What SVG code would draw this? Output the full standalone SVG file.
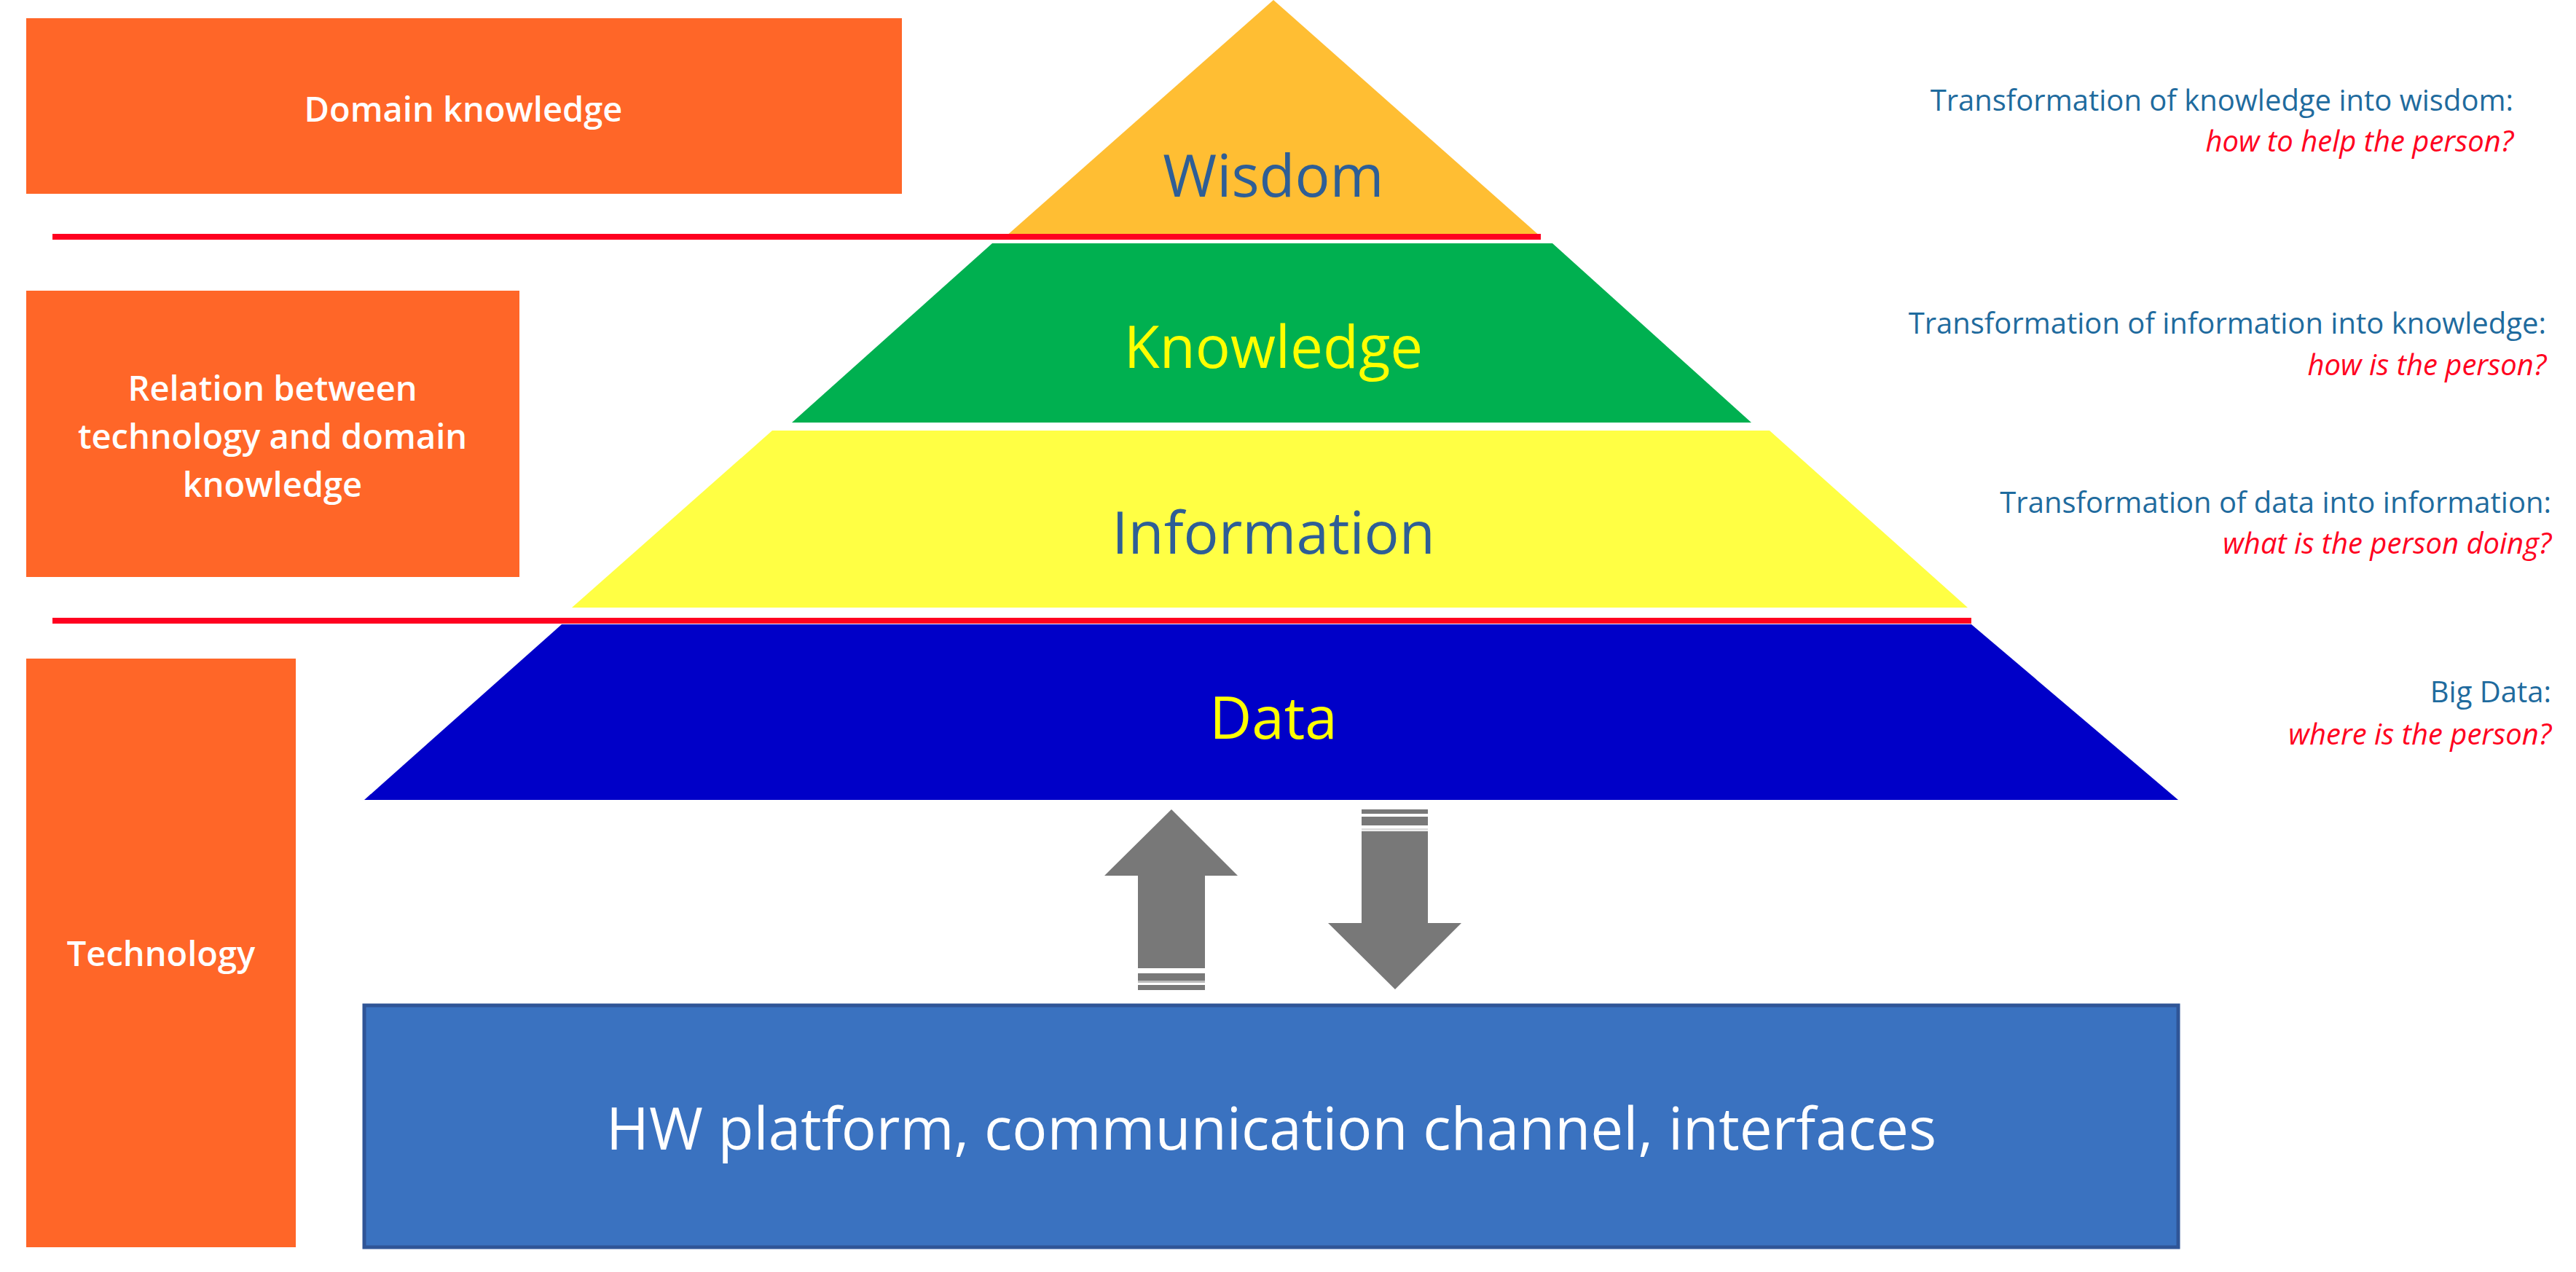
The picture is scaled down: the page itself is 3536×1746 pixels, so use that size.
<svg xmlns="http://www.w3.org/2000/svg" width="3536" height="1746" viewBox="0 0 3536 1746">
<style>
text{font-family:"Open Sans","Liberation Sans",sans-serif}
.box{fill:#FF6628}
.lt{fill:#fff;font-size:47px;font-weight:600;text-anchor:middle}
.pt{font-size:80px;text-anchor:middle}
.rt{font-size:40px;text-anchor:end;fill:#1F6B9E}
.rq{font-size:40px;text-anchor:end;fill:#FF0020;font-style:italic}
.arr{fill:#787878}
.red{stroke:#FF0020;stroke-width:8}
</style>
<rect width="3536" height="1746" fill="#fff"/>
<g id="domain"><rect class="box" x="36" y="25" width="1202" height="241"/><text class="lt" x="636" y="167">Domain knowledge</text></g>
<g id="relation"><rect class="box" x="36" y="399" width="677" height="393"/><text class="lt" x="374" y="550">Relation between</text><text class="lt" x="374" y="616">technology and domain</text><text class="lt" x="374" y="682">knowledge</text></g>
<g id="technology"><rect class="box" x="36" y="904" width="370" height="808"/><text class="lt" x="221" y="1326">Technology</text></g>
<g id="wisdom"><polygon points="1748,0 2115,325 1380,325" fill="#FFBE33"/><text class="pt" x="1748" y="270" fill="#2E5E96">Wisdom</text></g>
<g id="knowledge"><polygon points="1362,334 2131,334 2404,580 1087,580" fill="#00B050"/><text class="pt" x="1748" y="505" fill="#FFFF00">Knowledge</text></g>
<g id="information"><polygon points="1060,591 2429,591 2701,834 785,834" fill="#FFFF44"/><text class="pt" x="1748" y="760" fill="#2E5E96">Information</text></g>
<g id="data"><polygon points="771,857 2706,857 2990,1098 500,1098" fill="#0000C8"/><text class="pt" x="1748" y="1014" fill="#FFFF00">Data</text></g>
<g id="hw"><rect x="500" y="1380" width="2490" height="332" fill="#3A72C0" stroke="#2F5597" stroke-width="5"/><text x="1745" y="1578" font-size="80" fill="#fff" text-anchor="middle">HW platform, communication channel, interfaces</text></g>
<g id="labels">
<text class="rt" x="3450" y="152">Transformation of knowledge into wisdom:</text><text class="rq" x="3450" y="208">how to help the person?</text>
<text class="rt" x="3495" y="458">Transformation of information into knowledge:</text><text class="rq" x="3495" y="515">how is the person?</text>
<text class="rt" x="3502" y="704">Transformation of data into information:</text><text class="rq" x="3502" y="760">what is the person doing?</text>
<text class="rt" x="3502" y="964">Big Data:</text><text class="rq" x="3502" y="1022">where is the person?</text>
</g>
<g id="connectors">
<line class="red" x1="72" y1="325" x2="2115" y2="325"/>
<line class="red" x1="72" y1="852" x2="2706" y2="852"/>
<polygon class="arr" points="1608,1111 1699,1202 1654,1202 1654,1329 1562,1329 1562,1202 1516,1202"/>
<rect class="arr" x="1562" y="1336" width="92" height="10"/><rect x="1562" y="1346" width="92" height="3" fill="#bbb"/><rect class="arr" x="1562" y="1352" width="92" height="7"/>
<rect class="arr" x="1869" y="1111" width="91" height="6"/><rect class="arr" x="1869" y="1121" width="91" height="12"/><rect x="1869" y="1137" width="91" height="3" fill="#ddd"/>
<polygon class="arr" points="1869,1141 1960,1141 1960,1267 2006,1267 1915,1358 1823,1267 1869,1267"/>
</g>
</svg>
